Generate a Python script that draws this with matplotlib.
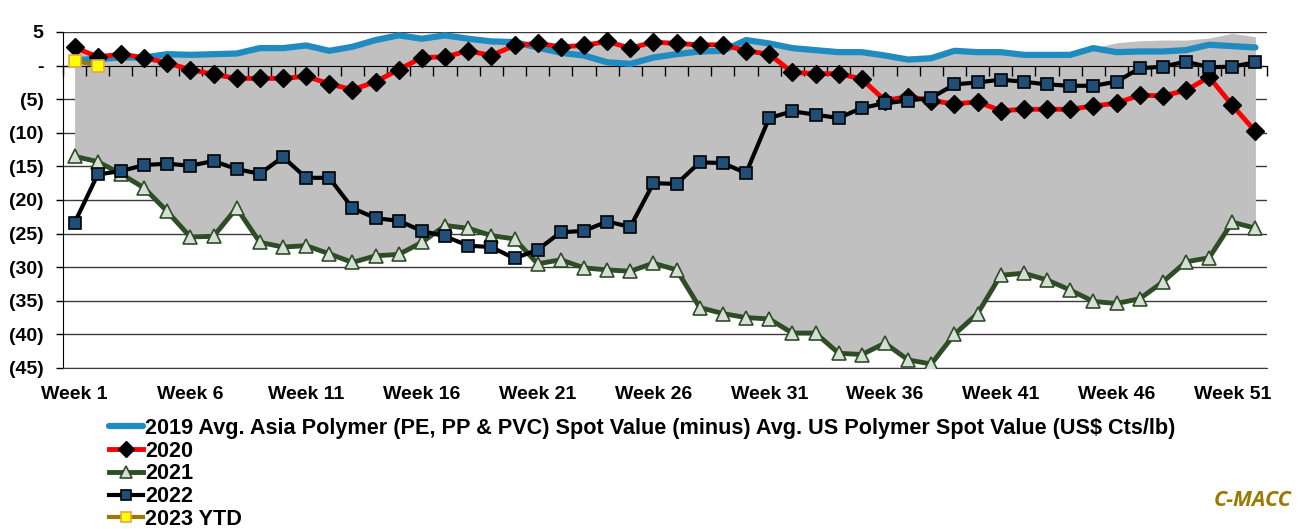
import numpy as np
import matplotlib
matplotlib.use("Agg")
import matplotlib.pyplot as plt
from matplotlib.font_manager import FontProperties

# weekly spread values (US$ Cts/lb)
weeks = np.arange(1, 53)
week_labels = ["Week %d" % w for w in range(1, 52, 5)]

y2019 = [0.8, 1.0, 1.2, 1.2, 1.7, 1.6, 1.7, 1.8, 2.6, 2.6,
         3.0, 2.2, 2.8, 3.8, 4.5, 4.0, 4.5, 4.0, 3.6, 3.5,
         2.7, 1.9, 1.5, 0.5, 0.25, 1.2, 1.7, 2.1, 2.2, 3.8,
         3.3, 2.6, 2.3, 2.0, 2.0, 1.5, 0.9, 1.1, 2.2, 2.0,
         2.0, 1.6, 1.6, 1.6, 2.6, 2.0, 2.1, 2.1, 2.3, 3.1,
         2.9, 2.7]
y2020 = [2.7, 1.3, 1.7, 1.2, 0.4, -0.6, -1.3, -1.9, -1.9, -1.9,
         -1.6, -2.7, -3.6, -2.4, -0.6, 1.2, 1.3, 2.2, 1.5, 3.0,
         3.3, 2.8, 3.0, 3.6, 2.6, 3.5, 3.3, 3.1, 3.1, 2.2,
         1.7, -1.0, -1.2, -1.2, -2.0, -5.2, -4.6, -5.2, -5.7, -5.4,
         -6.7, -6.5, -6.5, -6.5, -6.0, -5.6, -4.4, -4.5, -3.7, -1.7,
         -5.9, -9.8]
y2021 = [-13.5, -14.3, -16.1, -18.2, -21.7, -25.5, -25.4, -21.2, -26.3, -27.0,
         -26.8, -28.0, -29.3, -28.3, -28.1, -26.3, -23.8, -24.2, -25.3, -25.8,
         -29.5, -28.9, -30.1, -30.4, -30.6, -29.4, -30.4, -36.0, -36.9, -37.5,
         -37.7, -39.8, -39.8, -42.8, -43.0, -41.3, -43.8, -44.4, -40.0, -36.9,
         -31.2, -30.9, -31.9, -33.4, -35.1, -35.4, -34.7, -32.2, -29.2, -28.6,
         -23.3, -24.2]
y2022 = [-23.4, -16.2, -15.7, -14.8, -14.6, -14.9, -14.2, -15.4, -16.1, -13.6,
         -16.7, -16.7, -21.2, -22.7, -23.1, -24.6, -25.4, -26.8, -27.0, -28.7,
         -27.4, -24.8, -24.6, -23.2, -24.0, -17.5, -17.6, -14.4, -14.5, -16.0,
         -7.8, -6.8, -7.3, -7.8, -6.3, -5.6, -5.2, -4.8, -2.8, -2.5,
         -2.1, -2.4, -2.8, -3.0, -3.0, -2.4, -0.4, -0.15, 0.6, -0.25,
         -0.15, 0.5]
y2023 = [0.75, 0.0]

# historical range band (grey)
hist_high = [2.7, 1.3, 1.7, 1.2, 1.7, 1.6, 1.7, 1.8, 2.6, 2.6,
             3.0, 2.2, 2.8, 3.8, 4.5, 4.0, 4.5, 4.0, 3.6, 3.5,
             3.3, 2.8, 3.0, 3.6, 2.6, 3.5, 3.3, 3.1, 3.1, 3.8,
             3.3, 2.6, 2.3, 2.0, 2.0, 1.5, 0.9, 1.1, 2.2, 2.0,
             2.0, 1.6, 1.6, 1.6, 2.6, 3.4, 3.7, 3.8, 3.8, 4.1,
             4.8, 4.3]
hist_low = np.minimum.reduce([y2019, y2020, y2021])

legend_labels = ["2019 Avg. Asia Polymer (PE, PP & PVC) Spot Value (minus) Avg. US Polymer Spot Value (US$ Cts/lb)",
                 "2020", "2021", "2022", "2023 YTD"]

W, H = 1309, 529
fig = plt.figure(figsize=(W / 100, H / 100), dpi=100)
ax = fig.add_axes([63 / W, 1 - 368 / H, (1267 - 63) / W, (368 - 32) / H])

ax.fill_between(weeks, hist_low, hist_high, color="#C0C0C0", lw=0, zorder=1)

h19, = ax.plot(weeks, y2019, color="#1F8BC0", lw=4.5, solid_capstyle="round", zorder=3)
h20, = ax.plot(weeks, y2020, color="#FF0000", lw=3.5, marker="D", ms=9.5,
               mfc="black", mec="black", zorder=4)
h21, = ax.plot(weeks, y2021, color="#2E4D26", lw=3.5, marker="^", ms=10,
               mfc="#D5DFD5", mec="#2E4D26", mew=1.2, zorder=4)
h22, = ax.plot(weeks, y2022, color="black", lw=3, marker="s", ms=8,
               mfc="#1F4E79", mec="black", mew=1.2, zorder=5)
h23, = ax.plot(weeks[:len(y2023)], y2023, color="#9C7A00", lw=3, marker="s", ms=8,
               mfc="#FFFF00", mec="#E4A64A", mew=1.2, zorder=6)

ax.set_xlim(0.5, 52.5)
ax.set_ylim(-45, 5)

tick_font = FontProperties(family=["Liberation Sans", "DejaVu Sans"], weight="bold", size=14)

yt = list(range(-45, 6, 5))
ax.set_yticks(yt)
ax.set_yticklabels(["-" if v == 0 else ("(%d)" % -v if v < 0 else "%d" % v) for v in yt],
                   fontproperties=tick_font)
ax.tick_params(axis="y", length=5, width=1, color="black", pad=9)

ax.set_xticks(range(1, 52, 5))
ax.set_xticklabels(week_labels, fontproperties=tick_font)
ax.tick_params(axis="x", length=0, pad=13)

ax.yaxis.grid(True, color="#3A3A3A", lw=1)
ax.set_axisbelow(True)
for s in ["top", "right"]:
    ax.spines[s].set_visible(False)
ax.spines["bottom"].set_color("#3A3A3A")
ax.spines["left"].set_color("black")

# category axis crossing at zero, ticks between the weeks
sec = ax.secondary_xaxis(0.9)
sec.set_alignment("bottom")
sec.set_xticks(np.arange(0.5, 53, 1))
sec.set_xticklabels([])
sec.tick_params(axis="x", length=7, width=1, direction="out", color="black")
sec.spines["bottom"].set_color("black")
sec.set_zorder(2.5)

leg_font = FontProperties(family=["Liberation Sans Narrow", "Liberation Sans"], weight="bold", size=15.6)
fig.legend([h19, h20, h21, h22, h23], legend_labels, loc="upper left",
           bbox_to_anchor=(109 / W, 1 - 418 / H), frameon=False, prop=leg_font,
           handlelength=1.55, handletextpad=0.1, labelspacing=0.08,
           borderaxespad=0, borderpad=0, markerscale=0.85)

fig.text(1292 / W, 1 - 501 / H, "C-MACC", ha="right", va="center", color="#9C7800",
         fontsize=15.5, fontweight="bold", style="italic", family="Open Sans")

fig.savefig("out.png", dpi=100)
